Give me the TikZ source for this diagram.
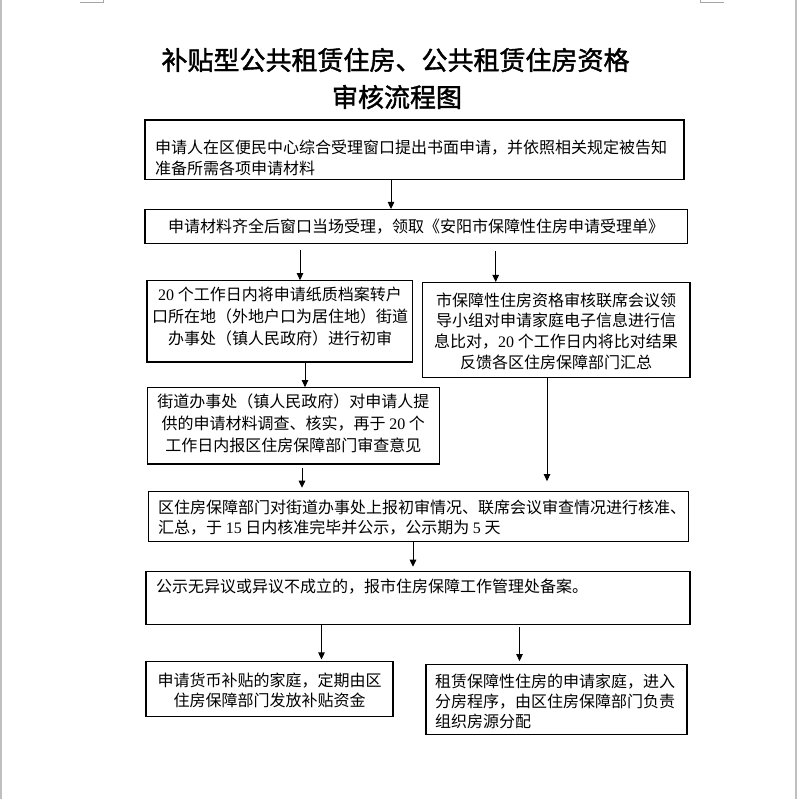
\documentclass[tikz,border=0pt]{standalone}
\usepackage{fontspec}
\setmainfont{Noto Sans CJK SC}
\newfontfamily\numf{Liberation Serif}
\newfontfamily\titlef[FakeBold=1.6]{Noto Sans CJK SC}
\usetikzlibrary{arrows.meta}
\tikzset{
  box/.style={draw=black, line width=1.1pt, inner sep=0pt},
  txt/.style={inner sep=0pt, text=black},
  titletext/.style={inner sep=0pt, font=\titlef\fontsize{26pt}{30pt}\selectfont},
  arr/.style={line width=0.9pt, -{Triangle[length=7pt,width=6.5pt]}},
  pageedge/.style={draw=black!25, line width=1.6pt},
  cornermark/.style={draw=black!35, line width=0.9pt}
}
\begin{document}
\begin{tikzpicture}[x=1pt,y=1pt]
\useasboundingbox (0,0) rectangle (798,799);
\fill[white] (0,0) rectangle (798,799);
% page edges and corner marks
\draw[pageedge] (0.8,0) -- (0.8,799);
\draw[pageedge] (796.2,0) -- (796.2,799);
\draw[cornermark] (80,797) -- (103.5,797) -- (103.5,799);
\draw[cornermark] (723.5,797) -- (700.5,797) -- (700.5,799);

% title
\node[titletext] (title1) at (395.5,739) {补贴型公共租赁住房、公共租赁住房资格};
\node[titletext] (title2) at (397,702) {审核流程图};

% boxes
\node[box, minimum width=539pt, minimum height=59.5pt] (b1) at (414.5,649.25) {};
\node[box, minimum width=542.5pt, minimum height=33.8pt] (b2) at (416.25,572.6) {};
\node[box, minimum width=265.5pt, minimum height=81.3pt] (b3) at (279.75,477.65) {};
\node[box, minimum width=267.5pt, minimum height=94.8pt] (b4) at (556.25,469.1) {};
\node[box, minimum width=292pt, minimum height=76.3pt] (b5) at (293.3,373.15) {};
\node[box, minimum width=540pt, minimum height=50pt] (b6) at (418.3,282.3) {};
\node[box, minimum width=544pt, minimum height=53.1pt] (b7) at (418,200.75) {};
\node[box, minimum width=247pt, minimum height=55pt] (b8) at (269.5,110) {};
\node[box, minimum width=261pt, minimum height=70pt] (b9) at (556.5,99.5) {};

% texts
\node[txt, anchor=west, align=left, font=\fontsize{16pt}{21pt}\selectfont] (t1) at (155,641.5)
  {申请人在区便民中心综合受理窗口提出书面申请，并依照相关规定被告知\\准备所需各项申请材料};
\node[txt, font=\fontsize{16pt}{21pt}\selectfont] (t2) at (416,572.5)
  {申请材料齐全后窗口当场受理，领取《安阳市保障性住房申请受理单》};
\node[txt, align=center, font=\fontsize{16pt}{21.7pt}\selectfont] (t3) at (280,482.3)
  {{\numf 20} 个工作日内将申请纸质档案转户\\口所在地（外地户口为居住地）街道\\办事处（镇人民政府）进行初审};
\node[txt, align=center, font=\fontsize{16pt}{20.7pt}\selectfont] (t4) at (556,468)
  {市保障性住房资格审核联席会议领\\导小组对申请家庭电子信息进行信\\息比对，{\numf 20} 个工作日内将比对结果\\反馈各区住房保障部门汇总};
\node[txt, align=center, font=\fontsize{16pt}{21.7pt}\selectfont] (t5) at (293.3,375.7)
  {街道办事处（镇人民政府）对申请人提\\供的申请材料调查、核实，再于 {\numf 20} 个\\工作日内报区住房保障部门审查意见};
\node[txt, anchor=west, align=left, font=\fontsize{16pt}{20pt}\selectfont] (t6) at (158,281.5)
  {区住房保障部门对街道办事处上报初审情况、联席会议审查情况进行核准、\\汇总，于 {\numf 15} 日内核准完毕并公示，公示期为 {\numf 5} 天};
\node[txt, anchor=west, font=\fontsize{16pt}{20pt}\selectfont] (t7) at (156,212)
  {公示无异议或异议不成立的，报市住房保障工作管理处备案。};
\node[txt, align=center, font=\fontsize{16pt}{20pt}\selectfont] (t8) at (269.5,109)
  {申请货币补贴的家庭，定期由区\\住房保障部门发放补贴资金};
\node[txt, anchor=west, align=left, font=\fontsize{16pt}{20pt}\selectfont] (t9) at (435,98)
  {租赁保障性住房的申请家庭，进入\\分房程序，由区住房保障部门负责\\组织房源分配};

% arrow x positions
\coordinate (ax1) at (391,0);
\coordinate (ax2) at (300,0);
\coordinate (ax3) at (495.7,0);
\coordinate (ax4) at (305,0);
\coordinate (ax5) at (302,0);
\coordinate (ax6) at (547,0);
\coordinate (ax7) at (413,0);
\coordinate (ax8) at (321.5,0);
\coordinate (ax9) at (519.5,0);

% connectors
\draw[arr] (b1.south -| ax1) -- (b2.north -| ax1);
\draw[arr, shorten <=5.7pt] (b2.south -| ax2) -- (b3.north -| ax2);
\draw[arr, shorten <=6.7pt] (b2.south -| ax3) -- (b4.north -| ax3);
\draw[arr] (b3.south -| ax4) -- (b5.north -| ax4);
\draw[arr, shorten <=3pt, shorten >=3.4pt] (b5.south -| ax5) -- (b6.north -| ax5);
\draw[arr, shorten >=10pt] (b4.south -| ax6) -- (b6.north -| ax6);
\draw[arr, shorten >=4.4pt] (b6.south -| ax7) -- (b7.north -| ax7);
\draw[arr, shorten >=1.5pt] (b7.south -| ax8) -- (b8.north -| ax8);
\draw[arr, shorten <=2pt, shorten >=2.8pt] (b7.south -| ax9) -- (b9.north -| ax9);
\end{tikzpicture}
\end{document}
